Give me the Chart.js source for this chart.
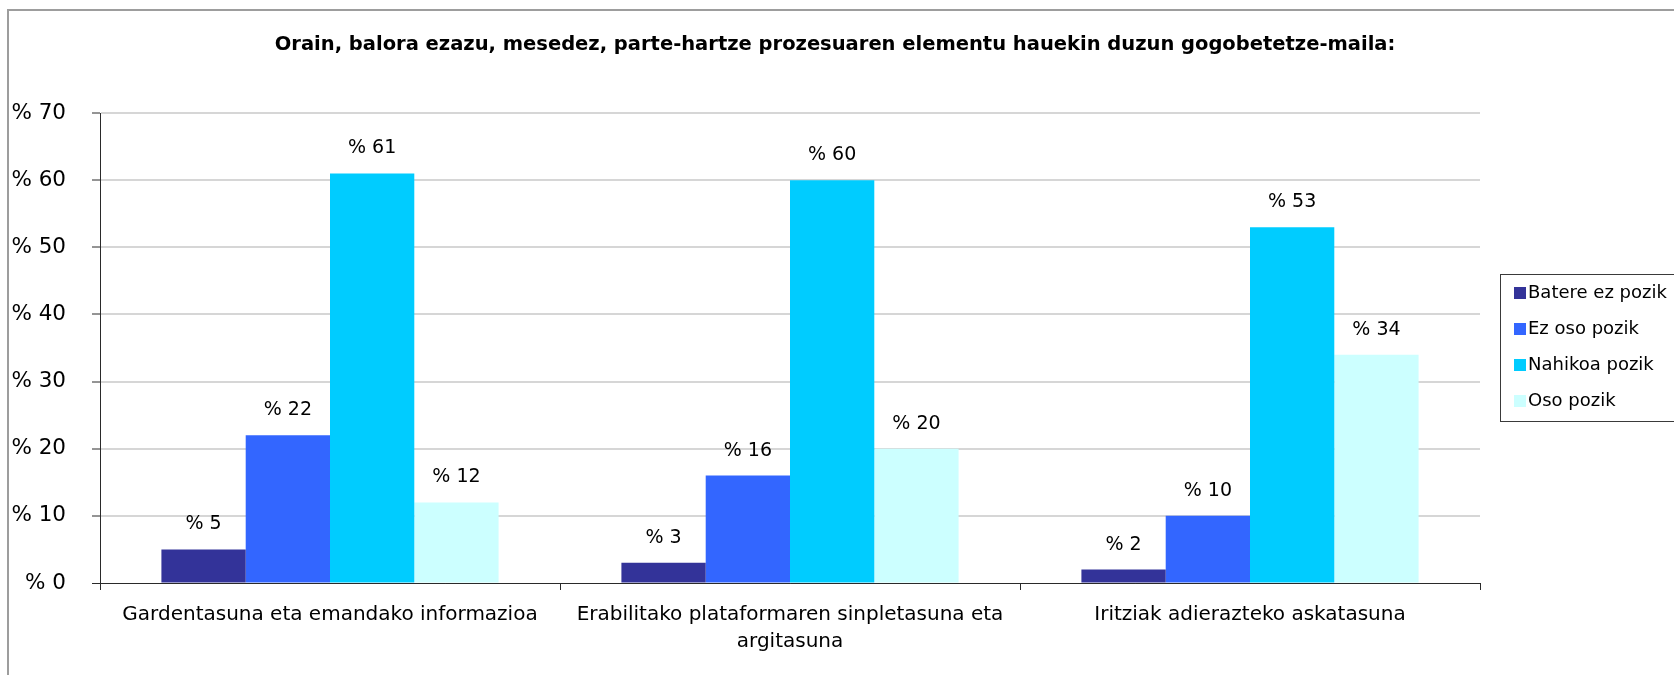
<!DOCTYPE html>
<html>
<head>
<meta charset="utf-8">
<script src="https://cdn.jsdelivr.net/npm/chart.js@4"></script>
<style>
  html, body { margin: 0; padding: 0; background: #fff; overflow: hidden; }
  #marco {
    position: absolute; left: 7px; top: 9px; width: 1800px; height: 800px;
    border-left: 2px solid #9d9d9d; border-top: 2px solid #9d9d9d;
  }
  #contenedor { position: relative; width: 1674px; height: 675px; }
</style>
</head>
<body>
<div id="marco"></div>
<div id="contenedor"><canvas id="myChart"></canvas></div>
<script>
const titulo = "Orain, balora ezazu, mesedez, parte-hartze prozesuaren elementu hauekin duzun gogobetetze-maila:";

const categorias = [
  "Gardentasuna eta emandako informazioa",
  ["Erabilitako plataformaren sinpletasuna eta", "argitasuna"],
  "Iritziak adierazteko askatasuna",
];

const nombresSeries = ["Batere ez pozik", "Ez oso pozik", "Nahikoa pozik", "Oso pozik"];
const bateraEzPozik = [5, 3, 2];
const ezOsoPozik = [22, 16, 10];
const nahikoaPozik = [61, 60, 53];
const osoPozik = [12, 20, 34];
const colores = ["#333399", "#3366ff", "#00ccff", "#ccffff"];

const yMin = 0;
const yMax = 70;
const yPaso = 10;
const prefijo = "% ";

const valoresSeries = [bateraEzPozik, ezOsoPozik, nahikoaPozik, osoPozik];

const fuente = "'DejaVu Sans', Verdana, sans-serif";
const colorEje = "#2a2a2a";

const tituloPlugin = {
  id: "titulo",
  beforeDraw: (chart) => {
    const ctx = chart.ctx;
    ctx.save();
    ctx.font = "bold 19.5px " + fuente;
    ctx.fillStyle = "#000";
    ctx.textAlign = "center";
    ctx.textBaseline = "middle";
    ctx.fillText(titulo, 835, 45);
    ctx.restore();
  },
};

const etiquetasPlugin = {
  id: "etiquetas",
  afterDatasetsDraw: (chart) => {
    const ctx = chart.ctx;
    ctx.save();
    ctx.font = "19px " + fuente;
    ctx.fillStyle = "#000";
    ctx.textAlign = "center";
    ctx.textBaseline = "middle";
    chart.data.datasets.forEach((ds, i) => {
      const meta = chart.getDatasetMeta(i);
      meta.data.forEach((bar, j) => {
        ctx.fillText(prefijo + ds.data[j], bar.x, bar.y - 25);
      });
    });
    ctx.restore();
  },
};

const leyendaPlugin = {
  id: "leyenda",
  afterDraw: (chart) => {
    const ctx = chart.ctx;
    const x = chart.chartArea.right + 20;
    const y = 274;
    ctx.save();
    ctx.strokeStyle = "#3a3a3a";
    ctx.lineWidth = 1;
    ctx.strokeRect(x + 0.5, y + 0.5, 400, 147);
    ctx.font = "18px " + fuente;
    ctx.textAlign = "left";
    ctx.textBaseline = "middle";
    chart.data.datasets.forEach((ds, i) => {
      const cy = y + 19 + i * 36;
      ctx.fillStyle = ds.backgroundColor;
      ctx.fillRect(x + 14, cy - 6, 12, 12);
      ctx.fillStyle = "#000";
      ctx.fillText(ds.label, x + 28, cy);
    });
    ctx.restore();
  },
};

const datasets = nombresSeries.map((nombre, i) => ({
  label: nombre,
  data: valoresSeries[i],
  backgroundColor: colores[i],
  borderWidth: 0,
  categoryPercentage: 0.733,
  barPercentage: 1.0,
}));

new Chart(document.getElementById("myChart"), {
  type: "bar",
  data: {
    labels: categorias,
    datasets: datasets,
  },
  options: {
    responsive: true,
    maintainAspectRatio: false,
    animation: false,
    layout: {
      padding: { top: 113, right: 194, bottom: 0, left: 0 },
    },
    plugins: {
      legend: { display: false },
      tooltip: { enabled: false },
    },
    scales: {
      x: {
        afterFit: (scale) => {
          scale.height = 92;
        },
        grid: {
          offset: true,
          drawOnChartArea: false,
          drawTicks: true,
          tickLength: 7,
          tickColor: colorEje,
          tickWidth: 1,
        },
        border: { color: colorEje, width: 1 },
        ticks: {
          color: "#000",
          font: { family: fuente, size: 20, lineHeight: 1.35 },
          padding: 11,
          maxRotation: 0,
          minRotation: 0,
          autoSkip: false,
        },
      },
      y: {
        min: yMin,
        max: yMax,
        afterFit: (scale) => {
          scale.width = 100;
        },
        grid: {
          color: (c) => (c.tick && c.tick.value === 0 ? colorEje : "#d6d6d6"),
          lineWidth: (c) => (c.tick && c.tick.value === 0 ? 1 : 2),
          drawTicks: true,
          tickLength: 8,
          tickColor: colorEje,
          tickWidth: 1,
        },
        border: { color: colorEje, width: 1 },
        ticks: {
          stepSize: yPaso,
          color: "#000",
          font: { family: fuente, size: 21.5 },
          padding: 26,
          callback: (v) => prefijo + v,
        },
      },
    },
  },
  plugins: [tituloPlugin, etiquetasPlugin, leyendaPlugin],
});
</script>
</body>
</html>
